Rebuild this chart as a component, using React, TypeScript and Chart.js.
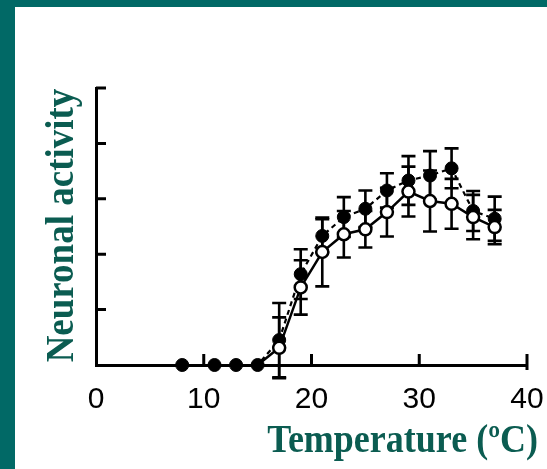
import React, { useEffect, useRef } from "react";
import { Chart, registerables } from "chart.js";

Chart.register(...registerables);

// Temperatures (ºC) and neuronal activity (arbitrary units)
const filledTemps = [8, 11, 13, 15, 17, 19, 21, 23, 25, 27, 29, 31, 33, 35, 37];
const filledValues = [0, 0, 0, 0, 0.45, 1.64, 2.33, 2.67, 2.82, 3.15, 3.33, 3.42, 3.55, 2.78, 2.64];
const filledErrors = [0, 0, 0, 0, 0.67, 0.45, 0.3, 0.36, 0.33, 0.31, 0.44, 0.44, 0.36, 0.36, 0.4];

const openTemps = [15, 17, 19, 21, 23, 25, 27, 29, 31, 33, 35, 37];
const openValues = [0, 0.31, 1.4, 2.04, 2.36, 2.45, 2.76, 3.13, 2.96, 2.91, 2.67, 2.49];
const openErrors = [0, 0.55, 0.49, 0.62, 0.42, 0.33, 0.44, 0.45, 0.55, 0.45, 0.4, 0.31];

const xTicks = [0, 10, 20, 30, 40];
const yTicks = [0, 1, 2, 3, 4, 5];
const xTitle = "Temperature (ºC)";
const yTitle = "Neuronal activity";

const TITLE_COLOR = "#0b5c51";
const FRAME_COLOR = "#016966";

const decorations = {
  id: "decorations",
  beforeDatasetsDraw(chart: any) {
    const ctx = chart.ctx;
    const xs = chart.scales.x;
    const ys = chart.scales.y;
    ctx.save();
    ctx.strokeStyle = "#000";
    ctx.lineWidth = 2.6;
    ctx.lineCap = "butt";
    chart.data.datasets.forEach((ds: any) => {
      const errs: number[] = ds.errors || [];
      ds.data.forEach((p: any, i: number) => {
        const e = errs[i];
        if (!e) return;
        const px = xs.getPixelForValue(p.x);
        const top = ys.getPixelForValue(p.y + e);
        const bot = ys.getPixelForValue(p.y - e);
        ctx.beginPath();
        ctx.moveTo(px, top);
        ctx.lineTo(px, bot);
        ctx.moveTo(px - 7, top);
        ctx.lineTo(px + 7, top);
        ctx.moveTo(px - 7, bot);
        ctx.lineTo(px + 7, bot);
        ctx.stroke();
      });
    });
    // inward tick marks
    ctx.lineWidth = 3;
    ctx.beginPath();
    yTicks.forEach((v) => {
      if (v === 0) return;
      const py = ys.getPixelForValue(v);
      ctx.moveTo(ys.right, py);
      ctx.lineTo(ys.right + 10, py);
    });
    xTicks.forEach((v) => {
      if (v === 0) return;
      const px = xs.getPixelForValue(v);
      ctx.moveTo(px, xs.top + (v === 40 ? 5 : 0));
      ctx.lineTo(px, xs.top - 11);
    });
    ctx.stroke();
    ctx.restore();
  },
  afterDraw(chart: any) {
    const ctx = chart.ctx;
    const area = chart.chartArea;
    ctx.save();
    ctx.fillStyle = TITLE_COLOR;
    ctx.textBaseline = "alphabetic";
    // x title, right aligned
    ctx.save();
    ctx.font = "bold 36px 'Liberation Serif', 'Times New Roman', serif";
    ctx.translate(area.right + 11, 445);
    ctx.scale(1, 1.1);
    ctx.textAlign = "right";
    ctx.fillText(xTitle, 0, 0);
    ctx.restore();
    // y title, rotated
    ctx.save();
    ctx.font = "bold 37px 'Liberation Serif', 'Times New Roman', serif";
    ctx.translate(58, (area.top + area.bottom) / 2 - 1);
    ctx.rotate(-Math.PI / 2);
    ctx.scale(1, 1.1);
    ctx.textAlign = "center";
    ctx.fillText(yTitle, 0, 0);
    ctx.restore();
    ctx.restore();
  },
};

export default function App() {
  const canvasRef = useRef<HTMLCanvasElement | null>(null);

  useEffect(() => {
    const canvas = canvasRef.current;
    if (!canvas) return;
    const chart = new Chart(canvas, {
      type: "line",
      data: {
        datasets: [
          {
            label: "open",
            data: openTemps.map((t, i) => ({ x: t, y: openValues[i] })),
            errors: openErrors,
            borderColor: "#000",
            borderWidth: 2.5,
            pointRadius: (c: any) => (c.dataIndex === 0 ? 0 : 6),
            pointHoverRadius: (c: any) => (c.dataIndex === 0 ? 0 : 6),
            pointBackgroundColor: "#fff",
            pointBorderColor: "#000",
            pointBorderWidth: 2.5,
            tension: 0,
            fill: false,
            clip: false,
          } as any,
          {
            label: "filled",
            data: filledTemps.map((t, i) => ({ x: t, y: filledValues[i] })),
            errors: filledErrors,
            borderColor: "#000",
            borderWidth: 2.2,
            borderDash: [5, 4],
            pointRadius: 6.5,
            pointHoverRadius: 6.5,
            pointBackgroundColor: "#000",
            pointBorderColor: "#000",
            pointBorderWidth: 1,
            tension: 0,
            fill: false,
            clip: false,
          } as any,
        ],
      },
      options: {
        responsive: false,
        animation: false,
        events: [],
        layout: { padding: { top: 81, right: 20, left: 0, bottom: 0 } },
        plugins: {
          legend: { display: false },
          tooltip: { enabled: false },
          title: { display: false },
        },
        scales: {
          x: {
            type: "linear",
            min: 0,
            max: 40,
            afterFit: (s: any) => {
              s.height = 104;
              s.paddingLeft = 0;
              s.paddingRight = 0;
            },
            afterBuildTicks: (s: any) => {
              s.ticks = xTicks.map((v) => ({ value: v }));
            },
            ticks: {
              color: "#000",
              padding: 17,
              font: { family: "'Liberation Sans', Arial, sans-serif", size: 30 },
            },
            grid: { display: false, drawTicks: false },
            border: { display: true, color: "#000", width: 3 },
          },
          y: {
            type: "linear",
            min: 0,
            max: 5,
            afterFit: (s: any) => {
              s.width = 81;
              s.paddingTop = 0;
              s.paddingBottom = 0;
            },
            afterBuildTicks: (s: any) => {
              s.ticks = yTicks.map((v) => ({ value: v }));
            },
            ticks: { display: false },
            grid: { display: false, drawTicks: false },
            border: { display: true, color: "#000", width: 3 },
          },
        },
      } as any,
      plugins: [decorations],
    });
    return () => chart.destroy();
  }, []);

  return (
    <div
      style={{
        position: "absolute",
        left: 0,
        top: 0,
        width: 547,
        height: 469,
        background: FRAME_COLOR,
        overflow: "hidden",
      }}
    >
      <div
        style={{
          position: "absolute",
          left: 15,
          top: 7,
          width: 532,
          height: 462,
          background: "#fff",
        }}
      >
        <canvas
          ref={canvasRef}
          width={532}
          height={462}
          style={{ display: "block", width: 532, height: 462 }}
        />
      </div>
    </div>
  );
}
